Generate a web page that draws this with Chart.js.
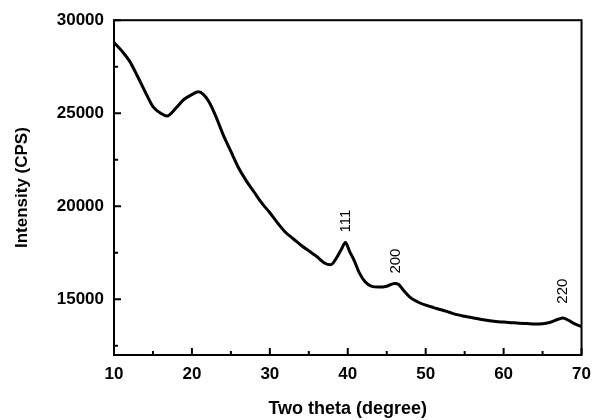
<!DOCTYPE html>
<html>
<head>
<meta charset="utf-8">
<script src="https://cdn.jsdelivr.net/npm/chart.js@4/dist/chart.umd.min.js"></script>
<style>
  html, body { margin: 0; padding: 0; background: #fff; }
  #wrap { width: 600px; height: 420px; }
</style>
</head>
<body>
<div id="wrap"><canvas id="xrdChart"></canvas></div>
<script>
// two theta (degree) and intensity (CPS)
const twoTheta = [10, 11, 12, 13, 14, 15, 16, 16.8, 18, 19, 20, 20.8, 21.5, 22.2, 23, 24, 25, 26, 27, 28,
  29, 30, 31, 32, 33, 34, 35, 36, 37, 37.8, 38.6, 39.2, 39.7, 40.2, 40.8, 41.5, 42.2, 43, 44, 45,
  46, 46.5, 47.2, 48, 49, 50, 51, 52, 53, 54, 55, 56, 57, 58, 59, 60, 61, 62, 63, 64,
  65, 66, 67, 67.6, 68.3, 69, 70];
const intensity = [28800, 28350, 27800, 27000, 26150, 25350, 25000, 24850, 25300, 25750, 26000, 26150, 26000, 25600, 24900, 23850, 22950, 22050, 21350, 20750,
  20150, 19650, 19100, 18600, 18250, 17900, 17600, 17300, 16950, 16850, 17250, 17700, 18050, 17600, 17100, 16400, 15950, 15700, 15650, 15700,
  15850, 15800, 15450, 15100, 14850, 14680, 14550, 14430, 14300, 14170, 14080, 14000, 13920, 13850, 13800, 13770, 13740, 13710, 13690, 13670,
  13680, 13760, 13920, 13990, 13870, 13700, 13520];

const xTicks = [10, 15, 20, 25, 30, 35, 40, 45, 50, 55, 60, 65, 70];
const yTicks = [12500, 15000, 17500, 20000, 22500, 25000, 27500, 30000];

// peak labels (hkl)
const peakLabels = ['111', '200', '220'];
const peakX = [39.7, 46.2, 67.6];
const peakLabelY = [19200, 17050, 15430];

const FONT = "'Liberation Sans', Arial, sans-serif";

const frameAndTicks = {
  id: 'frameAndTicks',
  afterDatasetsDraw(chart) {
    const { ctx, chartArea: a, scales } = chart;
    ctx.save();
    ctx.strokeStyle = '#000';
    ctx.lineWidth = 2;
    ctx.strokeRect(a.left, a.top, a.right - a.left, a.bottom - a.top);
    ctx.beginPath();
    scales.x.ticks.forEach(t => {
      const px = scales.x.getPixelForValue(t.value);
      const len = t.value % 10 === 0 ? 7 : 4;
      ctx.moveTo(px, a.bottom);
      ctx.lineTo(px, a.bottom - len);
    });
    scales.y.ticks.forEach(t => {
      const py = scales.y.getPixelForValue(t.value);
      const len = t.value % 5000 === 0 ? 7 : 4;
      ctx.moveTo(a.left, py);
      ctx.lineTo(a.left + len, py);
    });
    ctx.stroke();

    // peak annotations
    ctx.fillStyle = '#000';
    ctx.font = '15px ' + FONT;
    ctx.textAlign = 'center';
    ctx.textBaseline = 'middle';
    peakLabels.forEach((lab, i) => {
      const px = scales.x.getPixelForValue(peakX[i]);
      const py = scales.y.getPixelForValue(peakLabelY[i]);
      ctx.save();
      ctx.translate(px, py);
      ctx.rotate(-Math.PI / 2);
      ctx.fillText(lab, 0, 0);
      ctx.restore();
    });
    ctx.restore();
  }
};

const ctx = document.getElementById('xrdChart').getContext('2d');

new Chart(ctx, {
  type: 'line',
  data: {
    datasets: [{
      data: twoTheta.map((x, i) => ({ x, y: intensity[i] })),
      borderColor: '#000',
      borderWidth: 3,
      pointRadius: 0,
      cubicInterpolationMode: 'monotone',
      fill: false
    }]
  },
  options: {
    responsive: true,
    maintainAspectRatio: false,
    animation: false,
    layout: { padding: { top: 20, right: 12, left: 0, bottom: 0 } },
    plugins: {
      legend: { display: false },
      tooltip: { enabled: false }
    },
    scales: {
      x: {
        type: 'linear',
        min: 10,
        max: 70,
        afterBuildTicks: s => { s.ticks = xTicks.map(v => ({ value: v })); },
        afterFit: s => { s.height = 65; },
        grid: { display: false, drawTicks: false },
        border: { display: false },
        ticks: {
          padding: 9,
          color: '#000',
          maxRotation: 0,
          autoSkip: false,
          font: { family: FONT, size: 17, weight: 'bold' },
          callback: v => (v % 10 === 0 ? v : '')
        },
        title: {
          display: true,
          text: 'Two theta (degree)',
          color: '#000',
          padding: { top: 0, bottom: 0 },
          font: { family: FONT, size: 18, weight: 'bold' }
        }
      },
      y: {
        min: 12000,
        max: 30000,
        afterBuildTicks: s => { s.ticks = yTicks.map(v => ({ value: v })); },
        afterFit: s => { s.width = 114; },
        grid: { display: false, drawTicks: false },
        border: { display: false },
        ticks: {
          padding: 10,
          color: '#000',
          autoSkip: false,
          font: { family: FONT, size: 17, weight: 'bold' },
          callback: v => (v % 5000 === 0 ? v : '')
        },
        title: {
          display: true,
          text: 'Intensity (CPS)',
          color: '#000',
          padding: { top: 12, bottom: 0 },
          font: { family: FONT, size: 17, weight: 'bold' }
        }
      }
    }
  },
  plugins: [frameAndTicks]
});
</script>
</body>
</html>
